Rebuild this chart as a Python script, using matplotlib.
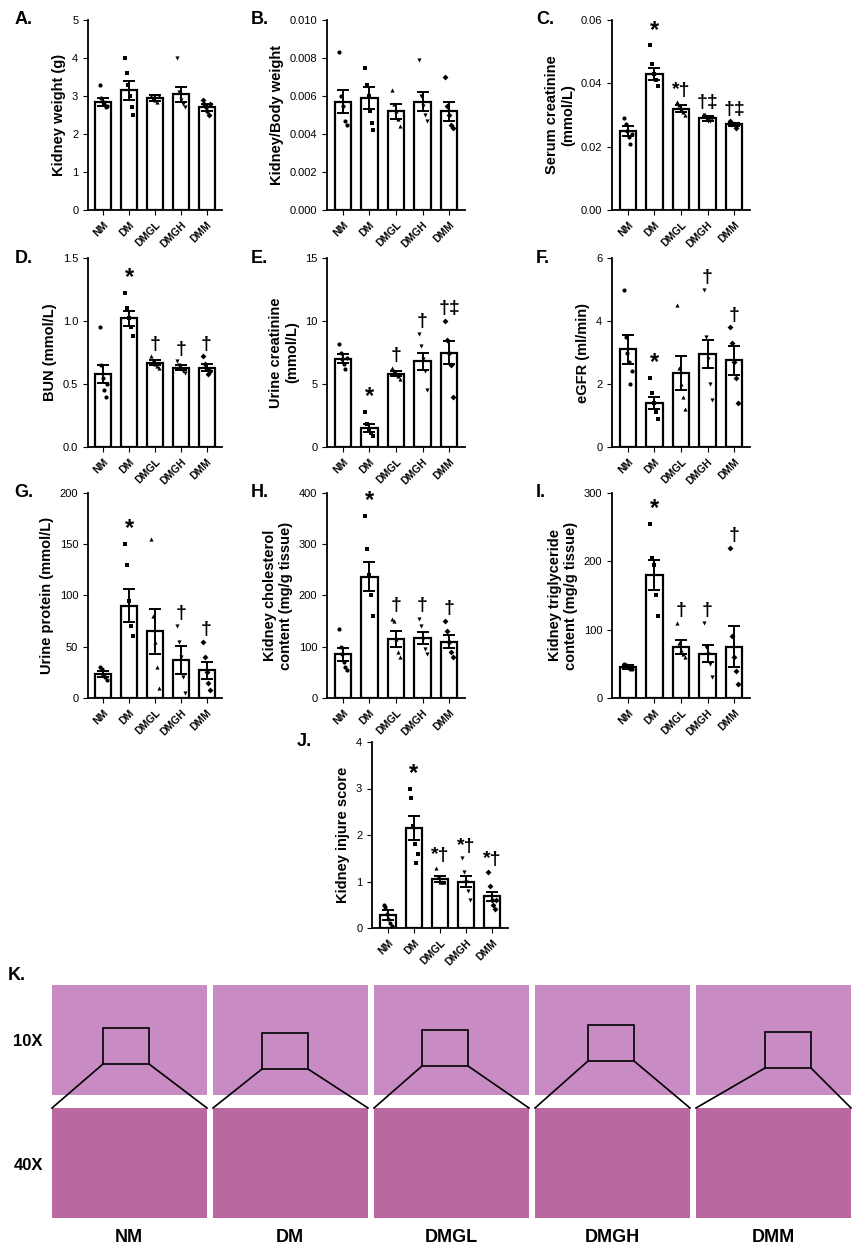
import matplotlib
matplotlib.use("Agg")
import matplotlib.pyplot as plt
import numpy as np
from matplotlib.patches import Rectangle

plt.rcParams['font.family'] = ['Liberation Sans', 'DejaVu Sans']
groups = ["NM", "DM", "DMGL", "DMGH", "DMM"]
markers = ["o", "s", "^", "v", "D"]

A_mean = [2.85, 3.15, 2.95, 3.05, 2.7]; A_err = [0.1, 0.25, 0.08, 0.2, 0.1]
A_pts = [[3.3, 2.95, 2.85, 2.8, 2.7, 2.75], [4.0, 3.6, 3.3, 3.0, 2.7, 2.5], [3.0, 2.95, 2.9, 2.85, 3.0], [4.0, 3.1, 2.9, 2.8, 2.7], [2.9, 2.8, 2.7, 2.6, 2.5, 2.8]]
B_mean = [0.0057, 0.0059, 0.0052, 0.0057, 0.0052]; B_err = [0.0006, 0.0006, 0.0004, 0.0005, 0.0005]
B_pts = [[0.0083, 0.0060, 0.0055, 0.0047, 0.0045], [0.0075, 0.0066, 0.0060, 0.0052, 0.0046, 0.0042], [0.0063, 0.0056, 0.0052, 0.0048, 0.0044], [0.0079, 0.0060, 0.0055, 0.0050, 0.0047], [0.0070, 0.0055, 0.0050, 0.0045, 0.0043]]
C_mean = [0.025, 0.043, 0.032, 0.029, 0.027]; C_err = [0.0015, 0.002, 0.001, 0.0008, 0.0005]
C_pts = [[0.029, 0.027, 0.025, 0.023, 0.021, 0.024], [0.052, 0.046, 0.043, 0.041, 0.039], [0.034, 0.033, 0.032, 0.031, 0.030], [0.030, 0.029, 0.028, 0.028, 0.029], [0.028, 0.027, 0.027, 0.026, 0.027]]
C_ann = ["", "*", "*†", "†‡", "†‡"]
D_mean = [0.58, 1.02, 0.67, 0.63, 0.63]; D_err = [0.07, 0.06, 0.02, 0.02, 0.03]
D_pts = [[0.95, 0.65, 0.55, 0.45, 0.40, 0.50], [1.22, 1.10, 1.02, 0.95, 0.88], [0.72, 0.68, 0.66, 0.64, 0.63], [0.68, 0.65, 0.62, 0.60, 0.59], [0.72, 0.66, 0.62, 0.58, 0.60]]
D_ann = ["", "*", "†", "†", "†"]
E_mean = [7.0, 1.5, 5.8, 6.8, 7.5]; E_err = [0.35, 0.3, 0.2, 0.7, 0.9]
E_pts = [[8.2, 7.5, 7.0, 6.6, 6.2, 7.1], [2.8, 1.8, 1.4, 1.1, 0.9], [6.3, 6.0, 5.8, 5.6, 5.4], [9.0, 8.0, 7.0, 6.0, 4.5], [10.0, 8.5, 7.5, 6.5, 4.0]]
E_ann = ["", "*", "†", "†", "†‡"]
F_mean = [3.1, 1.4, 2.35, 2.95, 2.75]; F_err = [0.45, 0.2, 0.55, 0.45, 0.45]
F_pts = [[5.0, 3.5, 3.0, 2.7, 2.0, 2.4], [2.2, 1.7, 1.4, 1.1, 0.9], [4.5, 2.5, 2.0, 1.6, 1.2], [5.0, 3.5, 2.8, 2.0, 1.5], [3.8, 3.3, 2.7, 2.2, 1.4]]
F_ann = ["", "*", "", "†", "†"]
G_mean = [23, 90, 65, 37, 27]; G_err = [3, 16, 22, 14, 8]
G_pts = [[30, 28, 22, 20, 18], [150, 130, 95, 70, 60], [155, 80, 55, 30, 10], [70, 55, 40, 20, 5], [55, 40, 25, 15, 8]]
G_ann = ["", "*", "", "†", "†"]
H_mean = [85, 237, 115, 117, 110]; H_err = [12, 28, 15, 12, 12]
H_pts = [[135, 100, 85, 70, 60, 55], [355, 290, 240, 200, 160], [155, 150, 115, 90, 80], [155, 140, 115, 95, 85], [150, 130, 110, 90, 80]]
H_ann = ["", "*", "†", "†", "†"]
I_mean = [45, 180, 75, 65, 75]; I_err = [3, 22, 10, 12, 30]
I_pts = [[50, 48, 45, 43, 42], [255, 205, 195, 150, 120], [110, 80, 70, 65, 60], [110, 75, 65, 50, 30], [220, 90, 60, 40, 20]]
I_ann = ["", "*", "†", "†", "†"]
J_mean = [0.28, 2.15, 1.05, 1.0, 0.68]; J_err = [0.1, 0.25, 0.06, 0.12, 0.1]
J_pts = [[0.5, 0.45, 0.3, 0.2, 0.1, 0.05], [3.0, 2.8, 2.2, 1.8, 1.4, 1.6], [1.3, 1.1, 1.0, 1.0, 1.0], [1.5, 1.2, 1.0, 0.8, 0.6], [1.2, 0.9, 0.6, 0.5, 0.4, 0.6]]
J_ann = ["", "*", "*†", "*†", "*†"]

W, H = 859, 1253
fig = plt.figure(figsize=(W / 100, H / 100), dpi=100)

def px_axes(x0, y0, x1, y1):
    return fig.add_axes([x0 / W, 1 - y1 / H, (x1 - x0) / W, (y1 - y0) / H])

def panel(box, letter, mean, err, pts, ylabel, ylim, step, ann=None, fmt=None):
    ax = px_axes(*box)
    x = np.arange(5)
    ax.bar(x, mean, width=0.62, color="white", edgecolor="black", linewidth=1.6, zorder=1)
    ax.errorbar(x, mean, yerr=err, fmt="none", ecolor="black", elinewidth=1.4, capsize=4, capthick=1.4, zorder=3)
    for i in range(5):
        p = pts[i]
        off = np.linspace(-0.15, 0.15, len(p))
        ax.scatter(i + off, p, marker=markers[i], s=9, color="black", zorder=4, linewidths=0)
    ax.set_xlim(-0.6, 4.6)
    ax.set_ylim(0, ylim)
    ax.set_yticks(np.arange(0, ylim + step / 2, step))
    if fmt:
        ax.set_yticklabels([fmt.format(v) for v in np.arange(0, ylim + step / 2, step)])
    ax.set_xticks(x)
    ax.set_xticklabels(groups, rotation=45, ha="right", rotation_mode="anchor", fontsize=7.5, fontweight="bold")
    ax.tick_params(axis="y", labelsize=8)
    for s in ["top", "right"]:
        ax.spines[s].set_visible(False)
    for s in ["left", "bottom"]:
        ax.spines[s].set_linewidth(1.3)
    ax.set_ylabel(ylabel, fontsize=10.5, fontweight="bold")
    ax.text(-0.55, 1.0, letter, transform=ax.transAxes, fontsize=13, fontweight="bold", va="center")
    if ann:
        for i, a in enumerate(ann):
            if a:
                top = max(max(pts[i]), mean[i] + err[i])
                ax.text(i, top + ylim * 0.02, a, ha="center", va="bottom", fontsize=17 if a == "*" else 14, fontweight="bold")
    return ax

cols = [(88, 222), (327, 465), (612, 750)]
rows = [(20, 210), (258, 447), (493, 698)]
panel((cols[0][0], rows[0][0], cols[0][1], rows[0][1]), "A.", A_mean, A_err, A_pts, "Kidney weight (g)", 5, 1)
panel((cols[1][0], rows[0][0], cols[1][1], rows[0][1]), "B.", B_mean, B_err, B_pts, "Kidney/Body weight", 0.010, 0.002, fmt="{:.3f}")
panel((cols[2][0], rows[0][0], cols[2][1], rows[0][1]), "C.", C_mean, C_err, C_pts, "Serum creatinine\n(mmol/L)", 0.06, 0.02, C_ann, fmt="{:.2f}")
panel((cols[0][0], rows[1][0], cols[0][1], rows[1][1]), "D.", D_mean, D_err, D_pts, "BUN (mmol/L)", 1.5, 0.5, D_ann, fmt="{:.1f}")
panel((cols[1][0], rows[1][0], cols[1][1], rows[1][1]), "E.", E_mean, E_err, E_pts, "Urine creatinine\n(mmol/L)", 15, 5, E_ann)
panel((cols[2][0], rows[1][0], cols[2][1], rows[1][1]), "F.", F_mean, F_err, F_pts, "eGFR (ml/min)", 6, 2, F_ann)
panel((cols[0][0], rows[2][0], cols[0][1], rows[2][1]), "G.", G_mean, G_err, G_pts, "Urine protein (mmol/L)", 200, 50, G_ann)
panel((cols[1][0], rows[2][0], cols[1][1], rows[2][1]), "H.", H_mean, H_err, H_pts, "Kidney cholesterol\ncontent (mg/g tissue)", 400, 100, H_ann)
panel((cols[2][0], rows[2][0], cols[2][1], rows[2][1]), "I.", I_mean, I_err, I_pts, "Kidney triglyceride\ncontent (mg/g tissue)", 300, 100, I_ann)
panel((372, 742, 508, 928), "J.", J_mean, J_err, J_pts, "Kidney injure score", 4, 1, J_ann)

# K: histology panel placeholders
kax = fig.add_axes([0, 0, 1, 1]); kax.set_xlim(0, W); kax.set_ylim(H, 0); kax.axis("off")
kax.text(8, 975, "K.", fontsize=13, fontweight="bold", va="center")
kax.text(28, 1042, "10X", fontsize=12, fontweight="bold", va="center", ha="center")
kax.text(28, 1165, "40X", fontsize=12, fontweight="bold", va="center", ha="center")
xs = [52, 213, 374, 535, 696]
boxes = [(103, 1028), (262, 1033), (422, 1030), (588, 1025), (765, 1032)]
for j, x0 in enumerate(xs):
    kax.add_patch(Rectangle((x0, 985), 155, 110, facecolor="#c88bc4", edgecolor="none"))
    kax.add_patch(Rectangle((x0, 1108), 155, 110, facecolor="#b9699f", edgecolor="none"))
    bx, by = boxes[j]
    kax.add_patch(Rectangle((bx, by), 46, 36, facecolor="none", edgecolor="black", lw=1.2))
    kax.plot([bx, x0], [by + 36, 1108], color="black", lw=1.2)
    kax.plot([bx + 46, x0 + 155], [by + 36, 1108], color="black", lw=1.2)
    kax.text(x0 + 77, 1238, groups[j], fontsize=13, fontweight="bold", ha="center", va="center")

fig.savefig("out.png", dpi=100)
